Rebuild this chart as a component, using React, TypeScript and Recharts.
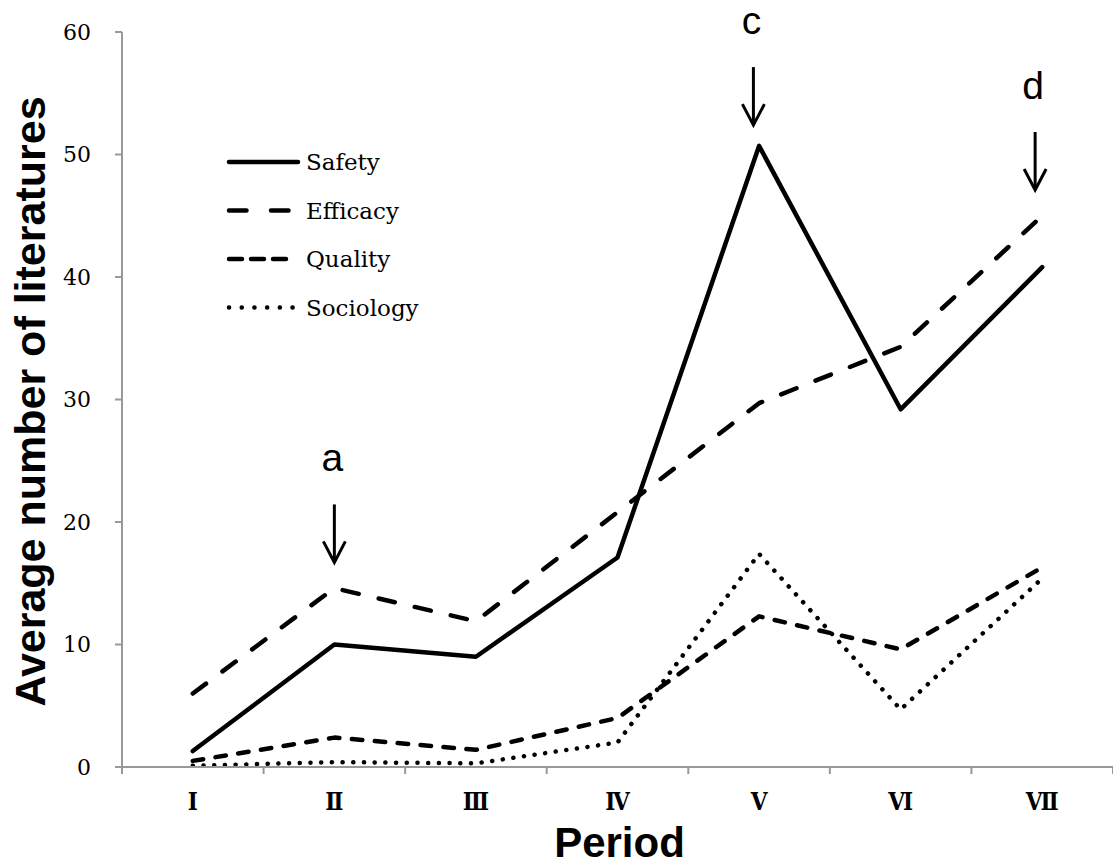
import React from "react";
import {
  LineChart,
  Line,
  XAxis,
  YAxis,
  Legend,
  ReferenceDot,
} from "recharts";

const periods = ["Ⅰ", "Ⅱ", "Ⅲ", "Ⅳ", "Ⅴ", "Ⅵ", "Ⅶ"];
const safety = [1.3, 10.0, 9.0, 17.1, 50.7, 29.2, 40.8];
const efficacy = [6.0, 14.6, 11.9, 20.8, 29.7, 34.3, 45.0];
const quality = [0.5, 2.4, 1.4, 4.0, 12.3, 9.6, 16.3];
const sociology = [0.1, 0.4, 0.3, 2.0, 17.4, 4.7, 15.4];
const yTicks = [0, 10, 20, 30, 40, 50, 60];
const boundaryTicks = [0, 1, 2, 3, 4, 5, 6, 7];

// arrow annotations: label, x position (period units), tip value
const notes = [
  { label: "a", x: 1.5, y: 16.7 },
  { label: "c", x: 4.46, y: 52.4 },
  { label: "d", x: 6.45, y: 47.1 },
];

const data = periods.map((p, i) => ({
  x: i + 0.5,
  period: p,
  safety: safety[i],
  efficacy: efficacy[i],
  quality: quality[i],
  sociology: sociology[i],
}));

const series = [
  { key: "safety", name: "Safety", dash: undefined, legendDash: undefined },
  { key: "efficacy", name: "Efficacy", dash: "16.5 20.5", legendDash: "17.5 24.5" },
  { key: "quality", name: "Quality", dash: "10.5 12.5", legendDash: "13 9" },
  { key: "sociology", name: "Sociology", dash: "0.1 10.6", legendDash: "0.1 12.6" },
];

const serif = "'DejaVu Serif', serif";
const sans = "'Liberation Sans', Arial, sans-serif";

function LegendBox() {
  return (
    <svg width={240} height={190}>
      {series.map((s, i) => {
        const y = 22 + i * 48.5;
        return (
          <g key={s.key}>
            <line
              x1={9}
              x2={s.key === "safety" ? 78 : s.key === "efficacy" ? 72 : 74}
              y1={y}
              y2={y}
              stroke="#000"
              strokeWidth={4.5}
              strokeLinecap="round"
              strokeDasharray={s.legendDash}
            />
            <text x={86} y={y + 8} fontFamily={serif} fontSize={23} fill="#000">
              {s.name}
            </text>
          </g>
        );
      })}
    </svg>
  );
}

function Arrow(props: any) {
  const { cx, cy, label } = props;
  const top = cy - 58;
  return (
    <g>
      <line x1={cx} x2={cx} y1={top} y2={cy - 1} stroke="#000" strokeWidth={3} />
      <polyline
        points={`${cx - 11},${cy - 21} ${cx},${cy} ${cx + 11},${cy - 21}`}
        fill="none"
        stroke="#000"
        strokeWidth={3}
      />
      <text
        x={cx - 2}
        y={top - 33}
        textAnchor="middle"
        fontFamily={sans}
        fontSize={39}
        fill="#000"
      >
        {label}
      </text>
    </g>
  );
}

export default function App() {
  return (
    <div style={{ position: "absolute", left: 0, top: 0, width: 1113, height: 865, background: "#fff" }}>
      <LineChart
        width={1113}
        height={865}
        data={data}
        margin={{ top: 32, right: 0, bottom: 0, left: 0 }}
      >
        <XAxis
          xAxisId={0}
          type="number"
          dataKey="x"
          domain={[0, 7]}
          ticks={boundaryTicks}
          tickFormatter={() => ""}
          height={10}
          tickSize={7}
          axisLine={{ stroke: "#999", strokeWidth: 2 }}
          tickLine={{ stroke: "#999", strokeWidth: 2 }}
        />
        <XAxis
          xAxisId="lab"
          type="category"
          scale="band"
          dataKey="period"
          height={88}
          axisLine={false}
          tickLine={false}
          tickSize={0}
          tickMargin={16}
          interval={0}
          tick={{
            fontFamily: "'DejaVu Serif Condensed', 'DejaVu Serif', serif",
            fontWeight: "bold",
            fontSize: 24,
            fill: "#000",
          }}
          label={{
            content: (p: any) => {
              const vb = p.viewBox;
              return (
                <text
                  x={vb.x + vb.width / 2 + 2}
                  y={857}
                  textAnchor="middle"
                  fontFamily={sans}
                  fontWeight="bold"
                  fontSize={42}
                  fill="#000"
                >
                  Period
                </text>
              );
            },
          }}
        />
        <YAxis
          type="number"
          domain={[0, 60]}
          ticks={yTicks}
          width={122}
          tickSize={7}
          tickMargin={24}
          axisLine={{ stroke: "#999", strokeWidth: 2 }}
          tickLine={{ stroke: "#999", strokeWidth: 2 }}
          tick={{ fontFamily: serif, fontSize: 22, fill: "#000" }}
          label={{
            content: (p: any) => {
              const vb = p.viewBox;
              const cy = vb.y + vb.height / 2 + 2;
              return (
                <text
                  x={45}
                  y={cy}
                  transform={`rotate(-90 45 ${cy})`}
                  textAnchor="middle"
                  fontFamily={sans}
                  fontWeight="bold"
                  fontSize={43}
                  fill="#000"
                >
                  Average number of literatures
                </text>
              );
            },
          }}
        />
        <Legend
          layout="vertical"
          align="center"
          verticalAlign="middle"
          wrapperStyle={{ position: "absolute", left: 220, top: 140, width: 240, height: 190 }}
          content={() => <LegendBox />}
        />
        {series.map((s) => (
          <Line
            key={s.key}
            dataKey={s.key}
            name={s.name}
            type="linear"
            stroke="#000"
            strokeWidth={4.5}
            strokeDasharray={s.dash}
            strokeLinecap="round"
            strokeLinejoin="round"
            dot={false}
            activeDot={false}
            isAnimationActive={false}
          />
        ))}
        {notes.map((n) => (
          <ReferenceDot
            key={n.label}
            x={n.x}
            y={n.y}
            ifOverflow="visible"
            shape={(p: any) => <Arrow {...p} label={n.label} />}
          />
        ))}
      </LineChart>
    </div>
  );
}
